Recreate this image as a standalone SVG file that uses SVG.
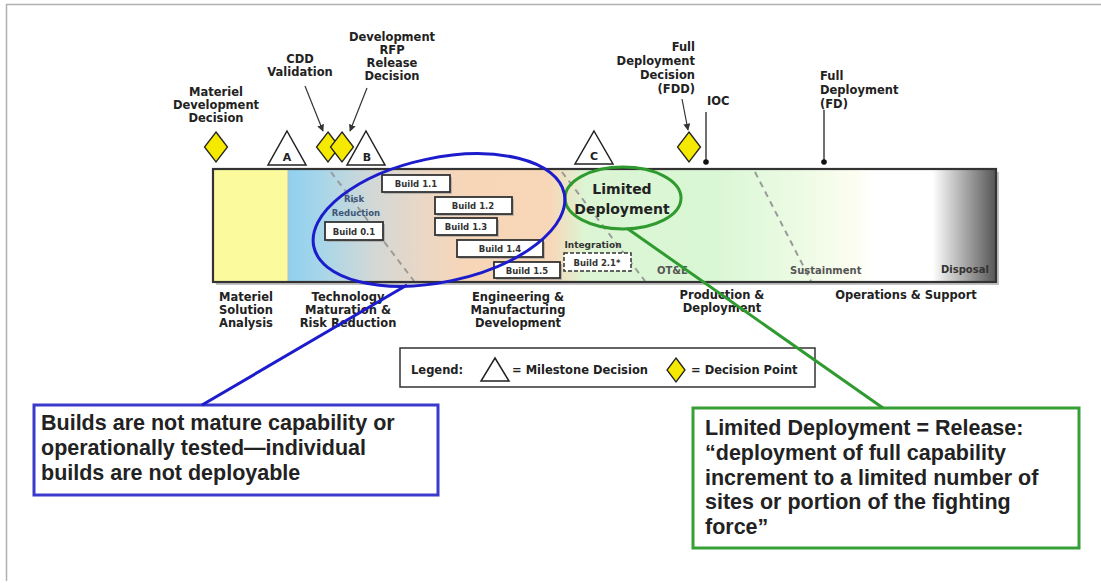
<svg xmlns="http://www.w3.org/2000/svg" width="1101" height="583" viewBox="0 0 1101 583">
  <defs>
    <linearGradient id="phaseFill" gradientUnits="userSpaceOnUse" x1="288" y1="0" x2="996" y2="0">
      <stop offset="0" stop-color="#8fd0f0"/>
      <stop offset="0.05" stop-color="#a9d6e8"/>
      <stop offset="0.12" stop-color="#d2d8d6"/>
      <stop offset="0.19" stop-color="#ead7c6"/>
      <stop offset="0.25" stop-color="#f7d6b8"/>
      <stop offset="0.37" stop-color="#f7d7b8"/>
      <stop offset="0.42" stop-color="#dcf5d4"/>
      <stop offset="0.6" stop-color="#d9f7d4"/>
      <stop offset="0.72" stop-color="#ecfbe4"/>
      <stop offset="0.8" stop-color="#fcfdf0"/>
      <stop offset="0.83" stop-color="#ffffff"/>
      <stop offset="0.91" stop-color="#ffffff"/>
      <stop offset="1" stop-color="#555555"/>
    </linearGradient>
    <marker id="arrowHead" viewBox="0 0 10 10" refX="9" refY="5" markerWidth="7" markerHeight="7" markerUnits="userSpaceOnUse" orient="auto">
      <path d="M0,0 L10,5 L0,10 z" fill="#333"/>
    </marker>
    <style>
      .lbl { font-family: "DejaVu Sans", "Liberation Sans", sans-serif; font-weight: bold; font-size: 11.5px; fill: #222; }
      .mid { text-anchor: middle; }
      .end { text-anchor: end; }
      .build { font-family: "DejaVu Sans", "Liberation Sans", sans-serif; font-weight: bold; font-size: 8.5px; fill: #333; text-anchor: middle; }
      .phase { font-family: "DejaVu Sans", "Liberation Sans", sans-serif; font-weight: bold; font-size: 10px; fill: #555; }
      .box { fill: #fff; stroke: #333; stroke-width: 1.8; }
      .shadow { fill: #9a9a9a; opacity: 0.6; }
      .diamond { fill: #f5e900; stroke: #222; stroke-width: 1.3; }
      .tri { fill: #fff; stroke: #222; stroke-width: 1.5; }
      .triTxt { font-family: "DejaVu Sans", "Liberation Sans", sans-serif; font-weight: bold; font-size: 11px; fill: #222; text-anchor: middle; }
      .phaseSplit { stroke: #9a9a9a; stroke-width: 2; stroke-dasharray: 6 5; fill: none; }
      .callout { font-family: "Liberation Sans", Arial, sans-serif; font-weight: bold; font-size: 21.5px; fill: #222; }
      .pointer { stroke: #333; stroke-width: 1.2; fill: none; }
    </style>
  </defs>

  <rect width="1101" height="583" fill="#fff"/>
  <!-- outer frame (top and left edges) -->
  <path d="M6.5,581 L6.5,4.5 L1101,4.5" fill="none" stroke="#b0b0b0" stroke-width="1.5"/>

  <!-- life-cycle bar -->
  <g id="lifecycle-bar">
    <rect x="216" y="172" width="783" height="113" fill="#c4c4c4"/>
    <rect x="213" y="169" width="75" height="113" fill="#fbfb9e"/>
    <rect x="288" y="169" width="708" height="113" fill="url(#phaseFill)"/>
    <line x1="288" y1="169" x2="288" y2="282" stroke="#bbb" stroke-width="1"/>
    <line class="phaseSplit" x1="331" y1="172" x2="414" y2="281"/>
    <line class="phaseSplit" x1="562" y1="172" x2="645" y2="281"/>
    <line class="phaseSplit" x1="755" y1="172" x2="811" y2="281"/>
    <rect x="213" y="169" width="783" height="113" fill="none" stroke="#333" stroke-width="2.2"/>
  </g>

  <!-- text and builds inside the bar -->
  <g id="risk-reduction">
    <text class="phase mid" x="354" y="202" style="fill:#3d5577;font-size:8.5px">Risk</text>
    <text class="phase mid" x="356" y="216" style="fill:#3d5577;font-size:8.5px">Reduction</text>
  </g>
  <g id="build-0-1">
    <rect class="shadow" x="327" y="224" width="58" height="18"/>
    <rect class="box" x="325" y="222" width="58" height="18"/>
    <text class="build" x="354" y="234.5">Build 0.1</text>
  </g>
  <g id="build-1-1">
    <rect class="shadow" x="384" y="177" width="68" height="17"/>
    <rect class="box" x="382" y="175" width="68" height="17"/>
    <text class="build" x="416" y="187">Build 1.1</text>
  </g>
  <g id="build-1-2">
    <rect class="shadow" x="437" y="199" width="77" height="17"/>
    <rect class="box" x="435" y="197" width="77" height="17"/>
    <text class="build" x="473" y="209">Build 1.2</text>
  </g>
  <g id="build-1-3">
    <rect class="shadow" x="437" y="220" width="62" height="17"/>
    <rect class="box" x="435" y="218" width="62" height="17"/>
    <text class="build" x="466" y="230">Build 1.3</text>
  </g>
  <g id="build-1-4">
    <rect class="shadow" x="459" y="242" width="86" height="17"/>
    <rect class="box" x="457" y="240" width="86" height="17"/>
    <text class="build" x="500" y="252">Build 1.4</text>
  </g>
  <g id="build-1-5">
    <rect class="shadow" x="496" y="264" width="66" height="16"/>
    <rect class="box" x="494" y="262" width="66" height="16"/>
    <text class="build" x="527" y="274">Build 1.5</text>
  </g>
  <g id="integration">
    <text class="phase mid" x="593" y="248" style="fill:#333;font-size:9px">Integration</text>
    <rect x="564" y="253" width="67" height="18" fill="#fff" stroke="#333" stroke-width="1.5" stroke-dasharray="4 2"/>
    <text class="build" x="597" y="265.5">Build 2.1*</text>
  </g>
  <g id="bar-phases">
    <text class="phase" x="657" y="274">OT&amp;E</text>
    <text class="phase" x="790" y="274">Sustainment</text>
    <text class="phase" x="941" y="273" style="fill:#333">Disposal</text>
  </g>
  <g id="limited-deployment">
    <text class="lbl mid" x="622" y="194" style="font-size:14px">Limited</text>
    <text class="lbl mid" x="622" y="214" style="font-size:14px">Deployment</text>
    <ellipse cx="623" cy="198" rx="58" ry="31" fill="none" stroke="#2f9a2f" stroke-width="3"/>
  </g>
  <g id="builds-ellipse">
    <ellipse cx="439" cy="220" rx="128" ry="62" transform="rotate(-12 439 220)" fill="none" stroke="#1c1ccc" stroke-width="3"/>
  </g>

  <!-- decision points and milestones -->
  <g id="mdd">
    <text class="lbl mid" x="216" y="96">Materiel</text>
    <text class="lbl mid" x="216" y="109">Development</text>
    <text class="lbl mid" x="216" y="122">Decision</text>
    <polygon class="diamond" points="216,132 227.5,147 216,162 204.5,147"/>
  </g>
  <g id="milestone-a">
    <polygon class="tri" points="287,131 306,165 268,165"/>
    <text class="triTxt" x="287" y="161">A</text>
  </g>
  <g id="cdd-validation">
    <text class="lbl mid" x="300" y="63">CDD</text>
    <text class="lbl mid" x="300" y="76">Validation</text>
    <polygon class="diamond" points="328,132 339.5,147 328,162 316.5,147"/>
  </g>
  <g id="milestone-b">
    <polygon class="tri" points="366,131 385,165 347,165"/>
    <text class="triTxt" x="367" y="161">B</text>
  </g>
  <g id="rfp-release">
    <text class="lbl mid" x="392" y="41">Development</text>
    <text class="lbl mid" x="392" y="54">RFP</text>
    <text class="lbl mid" x="392" y="67">Release</text>
    <text class="lbl mid" x="392" y="80">Decision</text>
    <polygon class="diamond" points="342,132 353.5,147 342,162 330.5,147"/>
  </g>
  <g id="milestone-c">
    <polygon class="tri" points="594,131 613,164 575,164"/>
    <text class="triTxt" x="594" y="160">C</text>
  </g>
  <g id="fdd">
    <text class="lbl end" x="695" y="51">Full</text>
    <text class="lbl end" x="695" y="65">Deployment</text>
    <text class="lbl end" x="695" y="79">Decision</text>
    <text class="lbl end" x="695" y="93">(FDD)</text>
    <polygon class="diamond" points="689,132 700.5,147 689,162 677.5,147"/>
  </g>
  <g id="ioc">
    <text class="lbl" x="707" y="105">IOC</text>
    <line x1="706" y1="112" x2="706" y2="162" stroke="#222" stroke-width="1.3"/>
    <circle cx="706" cy="162" r="2.8" fill="#111"/>
  </g>
  <g id="full-deployment">
    <text class="lbl" x="820" y="80">Full</text>
    <text class="lbl" x="820" y="94">Deployment</text>
    <text class="lbl" x="820" y="108">(FD)</text>
    <line x1="824" y1="110" x2="824" y2="162" stroke="#222" stroke-width="1.3"/>
    <circle cx="824" cy="162" r="2.8" fill="#111"/>
  </g>

  <!-- phase names under the bar -->
  <g id="phase-names">
    <text class="lbl mid" x="246" y="301">Materiel</text>
    <text class="lbl mid" x="246" y="314">Solution</text>
    <text class="lbl mid" x="246" y="327">Analysis</text>
    <text class="lbl mid" x="348" y="301">Technology</text>
    <text class="lbl mid" x="348" y="314">Maturation &amp;</text>
    <text class="lbl mid" x="348" y="327">Risk Reduction</text>
    <text class="lbl mid" x="518" y="301">Engineering &amp;</text>
    <text class="lbl mid" x="518" y="314">Manufacturing</text>
    <text class="lbl mid" x="518" y="327">Development</text>
    <text class="lbl mid" x="722" y="299">Production &amp;</text>
    <text class="lbl mid" x="722" y="312">Deployment</text>
    <text class="lbl mid" x="906" y="299">Operations &amp; Support</text>
  </g>

  <!-- legend -->
  <g id="legend">
    <rect x="400" y="348" width="415" height="39" fill="#fff" stroke="#333" stroke-width="1.5"/>
    <text class="lbl" x="411" y="374">Legend:</text>
    <polygon class="tri" points="495,358 509,381 481,381"/>
    <text class="lbl" x="512" y="374">= Milestone Decision</text>
    <polygon class="diamond" points="676,358 685,370 676,382 667,370"/>
    <text class="lbl" x="691" y="374">= Decision Point</text>
  </g>

  <!-- callouts -->
  <g id="builds-note">
    <rect x="34" y="405" width="404" height="90" fill="#fff" stroke="#3a3acc" stroke-width="3"/>
    <text class="callout" x="41" y="430">Builds are not mature capability or</text>
    <text class="callout" x="41" y="455">operationally tested—individual</text>
    <text class="callout" x="41" y="480">builds are not deployable</text>
  </g>
  <g id="release-note">
    <rect x="693" y="408" width="386" height="140" fill="#fff" stroke="#36a036" stroke-width="3"/>
    <text class="callout" x="705" y="435">Limited Deployment = Release:</text>
    <text class="callout" x="705" y="460">“deployment of full capability</text>
    <text class="callout" x="705" y="485">increment to a limited number of</text>
    <text class="callout" x="705" y="509">sites or portion of the fighting</text>
    <text class="callout" x="705" y="534">force”</text>
  </g>

  <!-- connectors -->
  <g id="connectors">
    <line class="pointer" x1="305" y1="86" x2="323" y2="131" marker-end="url(#arrowHead)"/>
    <line class="pointer" x1="367" y1="88" x2="350" y2="131" marker-end="url(#arrowHead)"/>
    <line class="pointer" x1="682" y1="99" x2="688" y2="130" marker-end="url(#arrowHead)"/>
    <line x1="407" y1="285" x2="202" y2="405" stroke="#1c1ccc" stroke-width="3"/>
    <line x1="628" y1="229" x2="883" y2="408" stroke="#2f9a2f" stroke-width="3"/>
  </g>
</svg>
